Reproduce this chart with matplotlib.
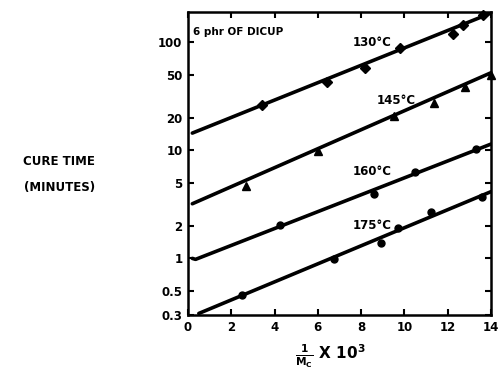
import matplotlib
matplotlib.use("Agg")
import matplotlib.pyplot as plt
import numpy as np

# Data
x130 = [3.4, 6.4, 8.2, 9.8, 12.25, 12.7, 13.65]
y130 = [26, 43, 57, 88, 119, 145, 177]
line130_x = [0.2, 14.0]
line130_y = [14.4, 185]

x145 = [2.7, 6.0, 9.5, 11.35, 12.8, 14.0]
y145 = [4.7, 9.8, 20.5, 27.4, 38, 50]
line145_x = [0.2, 14.0]
line145_y = [3.2, 52]

x160 = [4.27, 8.6, 10.5, 13.3]
y160 = [2.03, 3.9, 6.3, 10.2]
line160_x = [0.2, 0.35, 14.0]
line160_y = [1.0, 0.98, 11.4]

x175 = [2.5, 6.75, 8.9, 9.7, 11.25, 13.6]
y175 = [0.46, 0.98, 1.38, 1.9, 2.69, 3.7]
line175_x = [0.5, 14.0]
line175_y = [0.31, 4.14]

yticks = [0.3, 0.5, 1, 2, 5, 10, 20, 50, 100]
yticklabels = ["0.3", "0.5", "1", "2", "5", "10", "20", "50", "100"]
xticks = [0, 2, 4, 6, 8, 10, 12, 14]

plt.rcParams['font.family'] = ['DejaVu Sans']
plt.rcParams['font.weight'] = 'bold'
plt.rcParams['mathtext.default'] = 'bf'

fig = plt.figure(figsize=(5.0, 3.77), dpi=100)
ax = fig.add_axes([0.376, 0.1645, 0.606, 0.804])

lw = 2.6
for lx, ly in [(line130_x, line130_y), (line145_x, line145_y),
               (line160_x, line160_y), (line175_x, line175_y)]:
    ax.plot(lx, ly, color='black', lw=lw, solid_capstyle='round')

ax.plot(x130, y130, 'D', color='black', ms=5, clip_on=False)
ax.plot(x145, y145, '^', color='black', ms=5.5, clip_on=False)
ax.plot(x160, y160, 'o', color='black', ms=5, clip_on=False)
ax.plot(x175, y175, 'o', color='black', ms=5, clip_on=False)

ax.set_yscale('log')
ax.set_xlim(0, 14)
ax.set_ylim(0.3, 190)
ax.set_yticks(yticks)
ax.set_yticklabels(yticklabels)
ax.minorticks_off()
ax.set_xticks(xticks)
ax.tick_params(direction='in', top=True, right=True, length=4, width=1.5,
               labelsize=8.5, pad=4)
for lab in ax.get_xticklabels() + ax.get_yticklabels():
    lab.set_fontweight('bold')
for s in ax.spines.values():
    s.set_linewidth(1.8)

ax.text(0.25, 125, "6 phr OF DICUP", fontsize=7.5, fontweight='bold', va='center')
ax.text(7.6, 98, "130°C", fontsize=8.5, fontweight='bold', va='center')
ax.text(8.7, 29, "145°C", fontsize=8.5, fontweight='bold', va='center')
ax.text(7.6, 6.3, "160°C", fontsize=8.5, fontweight='bold', va='center')
ax.text(7.6, 2.0, "175°C", fontsize=8.5, fontweight='bold', va='center')

fig.text(59 / 500, 1 - 161 / 377, "CURE TIME", fontsize=8.5, fontweight='bold',
         ha='center', va='center')
fig.text(60 / 500, 1 - 188 / 377, "(MINUTES)", fontsize=8.5, fontweight='bold',
         ha='center', va='center')

fig.text(330 / 500, 1 - 356 / 377, r'$\frac{\mathbf{1}}{\mathbf{M_C}}$ X 10$^{\mathbf{3}}$',
         fontsize=11, fontweight='bold', ha='center', va='center')

fig.savefig("out.png", dpi=100)
